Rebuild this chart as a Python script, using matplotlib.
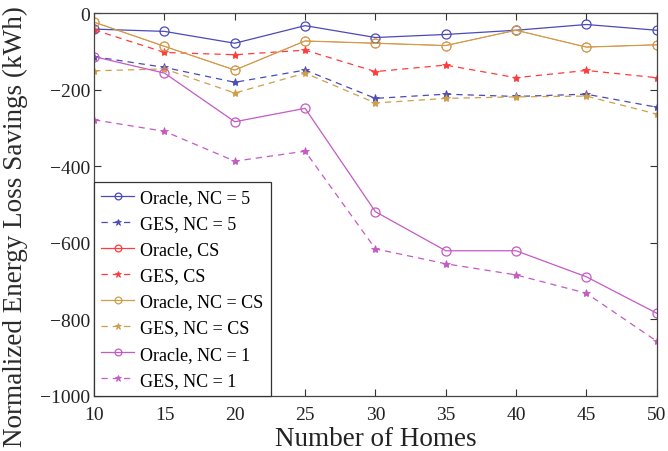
import matplotlib
matplotlib.use("Agg")
import matplotlib.pyplot as plt

plt.rcParams['font.family'] = ['Liberation Serif', 'DejaVu Serif']

# number of homes
homes = [10, 15, 20, 25, 30, 35, 40, 45, 50]

# normalized energy loss savings (kWh)
oracle_nc5 = [-42, -48, -79, -33, -64, -56, -45, -30, -45]
ges_nc5 = [-114, -142, -181, -149, -223, -212, -218, -212, -246]
oracle_cs = [-24, -87, -149, -73, -79, -85, -45, -89, -83]
ges_cs = [-44, -103, -109, -97, -153, -136, -169, -150, -169]
oracle_nccs = [-24, -87, -149, -73, -79, -85, -45, -89, -83]
ges_nccs = [-151, -146, -209, -157, -235, -223, -219, -217, -264]
oracle_nc1 = [-114, -157, -284, -249, -519, -621, -621, -689, -784]
ges_nc1 = [-279, -309, -387, -361, -616, -655, -684, -732, -857]

blue = '#4a4ab8'
red = '#ff3b3b'
gold = '#cf9e48'
magenta = '#c45ac4'

fig = plt.figure(figsize=(6.68, 4.52), dpi=100)
ax = fig.add_axes([0.141, 0.122, 0.842, 0.847])

solid = dict(linestyle='-', linewidth=0.9, marker='o', markersize=6.5,
             markerfacecolor='none', markeredgewidth=0.9)
dashed = dict(linestyle=(0, (5, 4)), linewidth=0.9, marker='*', markersize=6,
              markeredgewidth=0.6)

ax.plot(homes, oracle_nc5, color=blue, label='Oracle, NC = 5', **solid)
ax.plot(homes, ges_nc5, color=blue, label='GES, NC = 5', **dashed)
# Oracle CS sits right under Oracle NC = CS, keep it thin so it stays hidden
ax.plot(homes, oracle_cs, color=red, label='Oracle, CS',
        **dict(solid, linewidth=0.4, markeredgewidth=0.4))
ax.plot(homes, ges_cs, color=red, label='GES, CS', **dashed)
ax.plot(homes, oracle_nccs, color=gold, label='Oracle, NC = CS', **solid)
ax.plot(homes, ges_nccs, color=gold, label='GES, NC = CS', **dashed)
ax.plot(homes, oracle_nc1, color=magenta, label='Oracle, NC = 1', **solid)
ax.plot(homes, ges_nc1, color=magenta, label='GES, NC = 1', **dashed)

ax.set_xlim(10, 50)
ax.set_ylim(-1000, 0)
ax.set_xticks(homes)
ax.set_yticks([0, -200, -400, -600, -800, -1000])
ax.tick_params(direction='in', top=True, right=True, length=5, width=0.8,
               labelsize=14, colors='#333333', labelcolor='#222222')
ax.tick_params(axis='x', pad=7.5)
ax.tick_params(axis='y', pad=3)
for s in ax.spines.values():
    s.set_color('#444444')
    s.set_linewidth(0.9)

ax.set_xlabel('Number of Homes', fontsize=19.5, color='#222222', labelpad=2)
ax.set_ylabel('Normalized Energy Loss Savings (kWh)', fontsize=19.5,
              color='#2a2a2a')
ax.yaxis.set_label_coords(-0.118, 0.446)

leg = ax.legend(loc='lower left', fontsize=13, borderaxespad=0,
                fancybox=False, framealpha=1, edgecolor='#333333',
                handlelength=1.8, handletextpad=0.35, labelspacing=0.5,
                borderpad=0.4, markerscale=0.75)
leg.get_frame().set_linewidth(0.9)
for h in leg.legend_handles:
    h.set_linewidth(0.9)
    h.set_markeredgewidth(0.9 if h.get_marker() == 'o' else 0.6)

fig.savefig('out.png', dpi=100)
